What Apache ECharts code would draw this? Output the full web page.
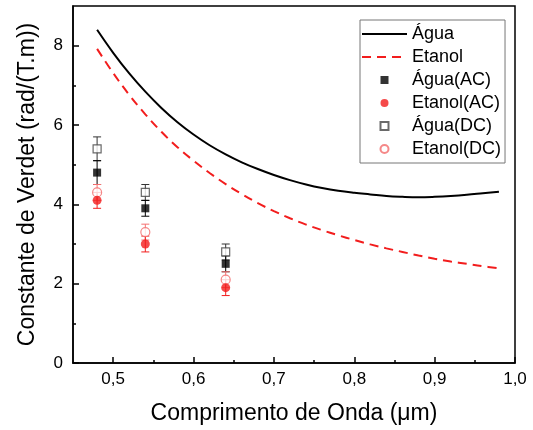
<!DOCTYPE html>
<html>
<head>
<meta charset="utf-8">
<script src="https://cdn.jsdelivr.net/npm/echarts@6/dist/echarts.min.js"></script>
<style>
  html, body { margin: 0; padding: 0; background: #fff; }
  #chart { width: 533px; height: 430px; }
</style>
</head>
<body>
<div id="chart"></div>
<script>
// theoretical curves
const waveX = [0.48, 0.50, 0.52, 0.54, 0.56, 0.58, 0.60, 0.62, 0.64, 0.66, 0.68, 0.70, 0.72,
  0.74, 0.76, 0.78, 0.80, 0.82, 0.84, 0.86, 0.88, 0.90, 0.92, 0.94, 0.96, 0.98]
const aguaCurve = [8.40, 7.82, 7.30, 6.84, 6.43, 6.07, 5.76, 5.49, 5.26, 5.06, 4.89, 4.74, 4.61,
  4.50, 4.41, 4.34, 4.29, 4.25, 4.21, 4.19, 4.18, 4.19, 4.21, 4.24, 4.28, 4.32]
const etanolCurve = [7.92, 7.31, 6.76, 6.27, 5.83, 5.44, 5.10, 4.79, 4.51, 4.26, 4.03, 3.83, 3.65,
  3.49, 3.35, 3.22, 3.10, 2.99, 2.89, 2.80, 2.71, 2.63, 2.56, 2.50, 2.44, 2.39]

// measured points
const expX = [0.48, 0.54, 0.64]
const aguaAC = [4.8, 3.9, 2.5]
const aguaACErr = [0.3, 0.2, 0.2]
const etanolAC = [4.1, 3.0, 1.9]
const etanolACErr = [0.2, 0.2, 0.2]
const aguaDC = [5.4, 4.3, 2.8]
const aguaDCErr = [0.3, 0.2, 0.2]
const etanolDC = [4.3, 3.3, 2.1]
const etanolDCErr = [0.2, 0.2, 0.2]

const xMajor = [0.5, 0.6, 0.7, 0.8, 0.9, 1.0]
const xMinor = [0.55, 0.65, 0.75, 0.85, 0.95]
const yMajor = [0, 2, 4, 6, 8]
const yMinor = [1, 3, 5, 7]

const FONT = 'Liberation Sans, Arial, sans-serif'
const RED = '#f21d1d'
const SQUARE = 'path://M0,0H10V10H0Z'

const pairs = (xs, ys) => xs.map((x, i) => [x, ys[i]])

function errorBars(name, ys, errs, color) {
  return {
    type: 'custom',
    name: name,
    z: 1,
    silent: true,
    data: expX.map((x, i) => [x, ys[i] - errs[i], ys[i] + errs[i]]),
    renderItem: (params, api) => {
      const lo = api.coord([api.value(0), api.value(1)])
      const hi = api.coord([api.value(0), api.value(2)])
      const w = 4
      const st = { stroke: color, lineWidth: 1 }
      return {
        type: 'group',
        children: [
          { type: 'line', shape: { x1: lo[0], y1: lo[1], x2: hi[0], y2: hi[1] }, style: st },
          { type: 'line', shape: { x1: lo[0] - w, y1: lo[1], x2: lo[0] + w, y2: lo[1] }, style: st },
          { type: 'line', shape: { x1: hi[0] - w, y1: hi[1], x2: hi[0] + w, y2: hi[1] }, style: st },
        ],
      }
    },
  }
}

const chart = echarts.init(document.getElementById('chart'), null, { renderer: 'canvas' })

const baseX = { type: 'value', min: 0.45, max: 1.0, splitLine: { show: false } }
const baseY = { type: 'value', min: 0, max: 9, splitLine: { show: false } }

chart.setOption({
  backgroundColor: '#fff',
  animation: false,
  textStyle: { fontFamily: FONT },
  grid: {
    left: 73, right: 18, top: 6, bottom: 67,
    show: true, borderColor: '#000', borderWidth: 1.5,
  },
  legend: {
    orient: 'vertical',
    left: 360, top: 20,
    padding: [4, 4, 4, 1],
    borderColor: '#777', borderWidth: 1,
    itemWidth: 45, itemHeight: 8, itemGap: 3,
    textStyle: { fontSize: 18, color: '#000', lineHeight: 20, fontFamily: FONT },
    data: [
      { name: 'Água', itemStyle: { opacity: 0 } },
      { name: 'Etanol', itemStyle: { opacity: 0 } },
      { name: 'Água(AC)', icon: SQUARE },
      { name: 'Etanol(AC)', icon: 'circle' },
      { name: 'Água(DC)', icon: SQUARE },
      { name: 'Etanol(DC)', icon: 'circle' },
    ],
  },
  xAxis: [
    Object.assign({}, baseX, {
      name: 'Comprimento de Onda (μm)',
      nameLocation: 'middle', nameGap: 39,
      nameTextStyle: { fontSize: 23, color: '#000', fontFamily: FONT },
      axisLine: { lineStyle: { color: '#000', width: 1.5 } },
      axisTick: { inside: true, length: 6, customValues: xMajor, lineStyle: { color: '#000', width: 1.5 } },
      axisLabel: {
        customValues: xMajor, margin: 8, fontSize: 17, color: '#000',
        formatter: (v) => v.toFixed(1).replace('.', ','),
      },
    }),
    Object.assign({}, baseX, {
      axisLine: { show: false },
      axisTick: { inside: true, length: 3, customValues: xMinor, lineStyle: { color: '#000', width: 1.5 } },
      axisLabel: { show: false },
      position: 'bottom',
    }),
  ],
  yAxis: [
    Object.assign({}, baseY, {
      name: 'Constante de Verdet (rad/(T.m))',
      nameLocation: 'middle', nameGap: 34,
      nameTextStyle: { fontSize: 23, color: '#000', fontFamily: FONT },
      axisLine: { lineStyle: { color: '#000', width: 1.5 } },
      axisTick: { inside: true, length: 6, customValues: yMajor, lineStyle: { color: '#000', width: 1.5 } },
      axisLabel: { customValues: yMajor, margin: 10, fontSize: 17, color: '#000' },
    }),
    Object.assign({}, baseY, {
      position: 'left',
      axisLine: { show: false },
      axisTick: { inside: true, length: 3, customValues: yMinor, lineStyle: { color: '#000', width: 1.5 } },
      axisLabel: { show: false },
    }),
  ],
  series: [
    {
      name: 'Água', type: 'line', smooth: 0.4, symbol: 'none',
      lineStyle: { color: '#000', width: 2 }, itemStyle: { color: '#000' },
      data: pairs(waveX, aguaCurve),
    },
    {
      name: 'Etanol', type: 'line', smooth: 0.4, symbol: 'none',
      lineStyle: { color: RED, width: 2, type: [9, 6] }, itemStyle: { color: RED },
      data: pairs(waveX, etanolCurve),
    },
    errorBars('errAguaDC', aguaDC, aguaDCErr, '#333'),
    errorBars('errAguaAC', aguaAC, aguaACErr, '#000'),
    errorBars('errEtanolDC', etanolDC, etanolDCErr, '#f47070'),
    errorBars('errEtanolAC', etanolAC, etanolACErr, RED),
    {
      name: 'Água(DC)', type: 'scatter', symbol: 'rect', symbolSize: 8, z: 3,
      itemStyle: { color: '#fff', borderColor: '#444', borderWidth: 1.2 },
      data: pairs(expX, aguaDC),
    },
    {
      name: 'Etanol(DC)', type: 'scatter', symbol: 'circle', symbolSize: 9, z: 3,
      itemStyle: { color: '#fff', borderColor: '#f26a6a', borderWidth: 1.2 },
      data: pairs(expX, etanolDC),
    },
    {
      name: 'Água(AC)', type: 'scatter', symbol: 'rect', symbolSize: 8, z: 4,
      itemStyle: { color: '#000' },
      data: pairs(expX, aguaAC),
    },
    {
      name: 'Etanol(AC)', type: 'scatter', symbol: 'circle', symbolSize: 9, z: 4,
      itemStyle: { color: RED },
      data: pairs(expX, etanolAC),
    },
  ],
})
</script>
</body>
</html>
